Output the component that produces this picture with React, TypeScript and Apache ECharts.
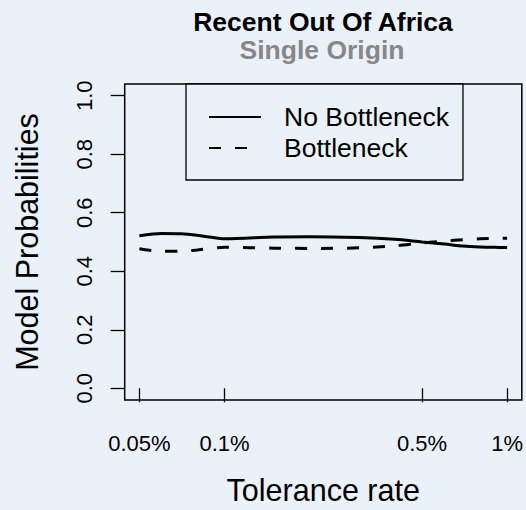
import React, { useEffect, useRef } from "react";
import * as echarts from "echarts";

// Tolerance rate (%) and model probabilities
const tolerance = [0.05, 0.06, 0.07, 0.08, 0.09, 0.1, 0.15, 0.2, 0.3, 0.4, 0.5, 0.6, 0.7, 0.8, 0.9, 1.0];
const noBottleneck = [0.521, 0.529, 0.528, 0.523, 0.516, 0.511, 0.517, 0.518, 0.515, 0.509, 0.5, 0.493, 0.486, 0.483, 0.482, 0.481];
const bottleneck = [0.477, 0.468, 0.468, 0.473, 0.478, 0.482, 0.479, 0.478, 0.48, 0.487, 0.497, 0.503, 0.508, 0.511, 0.512, 0.513];

const xTicks = [0.05, 0.1, 0.5, 1];
const xTickLabels = ["0.05%", "0.1%", "0.5%", "1%"];
const yTicks = [0, 0.2, 0.4, 0.6, 0.8, 1.0];
const yTickLabels = ["0.0", "0.2", "0.4", "0.6", "0.8", "1.0"];

const seriesNames = ["No Bottleneck", "Bottleneck"];
const titleText = "Recent Out Of Africa";
const subtitleText = "Single Origin";
const xTitle = "Tolerance rate";
const yTitle = "Model Probabilities";

const FONT = "'Liberation Sans', Arial, Helvetica, sans-serif";
const BG = "#ebf1f9";

function labelFor(values: number[], labels: string[], v: number) {
  for (let i = 0; i < values.length; i++) {
    if (Math.abs(values[i] - v) < 1e-6 * Math.max(1, Math.abs(v))) return labels[i];
  }
  return "";
}

export default function App() {
  const ref = useRef<HTMLDivElement>(null);
  useEffect(() => {
    document.body.style.background = BG;
    if (!ref.current) return;
    const chart = echarts.init(ref.current, undefined, { renderer: "svg" });
    const pad = Math.log10(1 / 0.05) * 0.04;
    const xMin = 0.05 * Math.pow(10, -pad);
    const xMax = 1 * Math.pow(10, pad);
    chart.setOption({
      animation: false,
      backgroundColor: BG,
      textStyle: { fontFamily: FONT },
      grid: {
        left: 124.7,
        right: 2.7,
        top: 84,
        bottom: 108.3,
        show: true,
        borderColor: "#000",
        borderWidth: 1.5,
        backgroundColor: "transparent",
      },
      legend: {
        orient: "vertical",
        left: 186,
        top: 84,
        data: seriesNames,
        itemWidth: 52,
        itemHeight: 14,
        itemGap: 4.2,
        borderColor: "#000",
        borderWidth: 1.3,
        padding: [19.4, 14, 18.4, 22],
        backgroundColor: BG,
        itemStyle: { opacity: 0 },
        formatter: (n: string) => `{t|${n}}`,
        textStyle: {
          rich: {
            t: {
              fontSize: 26.5,
              fontFamily: FONT,
              color: "#000",
              lineHeight: 32,
              padding: [0, 0, 0, 18],
            },
          },
        },
      },
      xAxis: {
        type: "log",
        min: xMin,
        max: xMax,
        name: xTitle,
        nameLocation: "middle",
        nameGap: 74,
        nameTextStyle: { fontSize: 30.5, color: "#000", fontFamily: FONT },
        axisLine: { show: false },
        splitLine: { show: false },
        minorTick: { show: false },
        axisTick: {
          show: true,
          length: 14,
          customValues: xTicks,
          lineStyle: { color: "#000", width: 1.3 },
        },
        axisLabel: {
          customValues: xTicks,
          margin: 32,
          fontSize: 22,
          color: "#000",
          fontFamily: FONT,
          formatter: (v: number) => labelFor(xTicks, xTickLabels, v),
        },
      },
      yAxis: {
        type: "value",
        min: -0.04,
        max: 1.04,
        name: yTitle,
        nameLocation: "middle",
        nameRotate: 90,
        nameGap: 82,
        nameTextStyle: { fontSize: 30.5, color: "#000", fontFamily: FONT },
        axisLine: { show: false },
        splitLine: { show: false },
        axisTick: {
          show: true,
          length: 14,
          customValues: yTicks,
          lineStyle: { color: "#000", width: 1.3 },
        },
        axisLabel: {
          customValues: yTicks,
          rotate: 90,
          margin: 29,
          fontSize: 22,
          color: "#000",
          fontFamily: FONT,
          formatter: (v: number) => labelFor(yTicks, yTickLabels, v),
        },
      },
      graphic: [
        {
          type: "text",
          x: 323,
          y: 22,
          style: {
            text: titleText,
            align: "center",
            verticalAlign: "middle",
            fontSize: 26.5,
            fontWeight: "bold",
            fontFamily: FONT,
            fill: "#000",
          },
        },
        {
          type: "text",
          x: 322,
          y: 50,
          style: {
            text: subtitleText,
            align: "center",
            verticalAlign: "middle",
            fontSize: 26.5,
            fontWeight: "bold",
            fontFamily: FONT,
            fill: "#888888",
          },
        },
      ],
      series: [
        {
          name: seriesNames[0],
          type: "line",
          data: tolerance.map((t, i) => [t, noBottleneck[i]]),
          showSymbol: false,
          symbol: "none",
          smooth: 0.3,
          lineStyle: { color: "#000", width: 3, type: "solid" },
          itemStyle: { color: "#000" },
        },
        {
          name: seriesNames[1],
          type: "line",
          data: tolerance.map((t, i) => [t, bottleneck[i]]),
          showSymbol: false,
          symbol: "none",
          smooth: 0.3,
          lineStyle: { color: "#000", width: 3, type: [12, 14], cap: "butt" },
          itemStyle: { color: "#000" },
        },
      ],
    });
    return () => chart.dispose();
  }, []);
  return (
    <div
      ref={ref}
      style={{ position: "fixed", left: 0, top: 0, width: 526, height: 510 }}
    />
  );
}
